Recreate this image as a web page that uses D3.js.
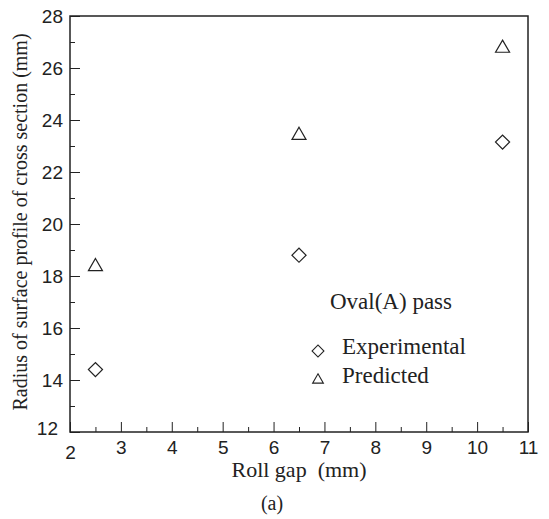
<!DOCTYPE html>
<html>
<head>
<meta charset="utf-8">
<script src="https://cdn.jsdelivr.net/npm/d3@7"></script>
<style>
  body { margin: 0; background: #fff; }
  svg { display: block; }
  .tick text { font-family: "Liberation Sans", Arial, sans-serif; font-size: 19px; fill: #222; }
  .ttl { font-family: "Liberation Serif", "Times New Roman", serif; fill: #222; }
</style>
</head>
<body>
<div id="chart"></div>
<script>
// roll gap (mm)
var rollGap = [2.5, 6.5, 10.5];
// radius of surface profile (mm)
var experimental = [14.4, 18.8, 23.15];
var predicted = [18.4, 23.45, 26.8];
var xTicks = [2, 3, 4, 5, 6, 7, 8, 9, 10, 11];
var yTicks = [12, 14, 16, 18, 20, 22, 24, 26, 28];

var W = 549, H = 519;
var margin = {top: 16, right: 21, bottom: 87, left: 70};
var width = W - margin.left - margin.right,
    height = H - margin.top - margin.bottom;
var ink = "#222";

var svg = d3.select("#chart").append("svg")
    .attr("width", W)
    .attr("height", H);
var g = svg.append("g")
    .attr("transform", "translate(" + margin.left + "," + margin.top + ")");

var x = d3.scaleLinear().domain([2, 11]).range([0, width]);
var y = d3.scaleLinear().domain([12, 28]).range([height, 0]);

/* minor ticks first, then major ticks with labels */
g.append("g")
    .attr("transform", "translate(0," + height + ")")
    .call(d3.axisBottom(x).tickValues(d3.range(2.5, 11, 1)).tickSize(-5).tickFormat(""))
    .call(function(a) { a.select(".domain").remove(); });
g.append("g")
    .call(d3.axisLeft(y).tickValues(d3.range(13, 28, 2)).tickSize(-5).tickFormat(""))
    .call(function(a) { a.select(".domain").remove(); });

var xAxis = g.append("g")
    .attr("transform", "translate(0," + height + ")")
    .call(d3.axisBottom(x).tickValues(xTicks).tickSize(-10).tickPadding(8).tickFormat(d3.format("d")));
xAxis.select(".domain").remove();
xAxis.selectAll(".tick text").attr("dy", "0.75em");

var yAxis = g.append("g")
    .call(d3.axisLeft(y).tickValues(yTicks).tickSize(-10).tickPadding(7).tickFormat(d3.format("d")));
yAxis.select(".domain").remove();
yAxis.selectAll(".tick text").attr("dy", "0.36em");
// corner labels sit apart like the source
xAxis.selectAll(".tick text").filter(function(d) { return d === 2; }).attr("dy", "1.0em");
yAxis.selectAll(".tick text").filter(function(d) { return d === 12; }).attr("dy", "0.15em").attr("x", -12);

g.selectAll(".tick line").attr("stroke", ink).attr("stroke-width", 1);

// frame
g.append("rect")
    .attr("width", width)
    .attr("height", height)
    .attr("fill", "none")
    .attr("stroke", ink)
    .attr("stroke-width", 1.5);

var diamond = d3.symbol().type(d3.symbolSquare).size(100);
var triangle = d3.symbol().type(d3.symbolTriangle).size(85);

g.selectAll(".exp")
    .data(experimental)
    .enter()
    .append("path")
    .attr("class", "exp")
    .attr("d", diamond)
    .attr("transform", function(d, i) { return "translate(" + x(rollGap[i]) + "," + y(d) + ") rotate(45)"; })
    .attr("fill", "none")
    .attr("stroke", ink)
    .attr("stroke-width", 1.2);

g.selectAll(".pred")
    .data(predicted)
    .enter()
    .append("path")
    .attr("class", "pred")
    .attr("d", triangle)
    .attr("transform", function(d, i) { return "translate(" + x(rollGap[i]) + "," + (y(d) + 1) + ")"; })
    .attr("fill", "none")
    .attr("stroke", ink)
    .attr("stroke-width", 1.2);

// legend
var leg = svg.append("g");
leg.append("text").attr("class", "ttl")
    .attr("x", 330).attr("y", 309)
    .style("font-size", "23px")
    .text("Oval(A) pass");
leg.append("path")
    .attr("d", d3.symbol().type(d3.symbolSquare).size(70))
    .attr("transform", "translate(318,351) rotate(45)")
    .attr("fill", "none").attr("stroke", ink).attr("stroke-width", 1.1);
leg.append("text").attr("class", "ttl")
    .attr("x", 342).attr("y", 354)
    .style("font-size", "23px")
    .text("Experimental");
leg.append("path")
    .attr("d", d3.symbol().type(d3.symbolTriangle).size(50))
    .attr("transform", "translate(318,380)")
    .attr("fill", "none").attr("stroke", ink).attr("stroke-width", 1.1);
leg.append("text").attr("class", "ttl")
    .attr("x", 342).attr("y", 383)
    .style("font-size", "23px")
    .text("Predicted");

// axis titles
svg.append("text").attr("class", "ttl")
    .attr("x", 299).attr("y", 477)
    .attr("text-anchor", "middle")
    .style("font-size", "22px")
    .text("Roll gap\u00a0\u00a0(mm)");
svg.append("text").attr("class", "ttl")
    .attr("transform", "translate(27," + 222 + ") rotate(-90)")
    .attr("text-anchor", "middle")
    .style("font-size", "20px")
    .text("Radius of surface profile of cross section (mm)");
svg.append("text").attr("class", "ttl")
    .attr("x", 272).attr("y", 510)
    .attr("text-anchor", "middle")
    .style("font-size", "20px")
    .text("(a)");
</script>
</body>
</html>
